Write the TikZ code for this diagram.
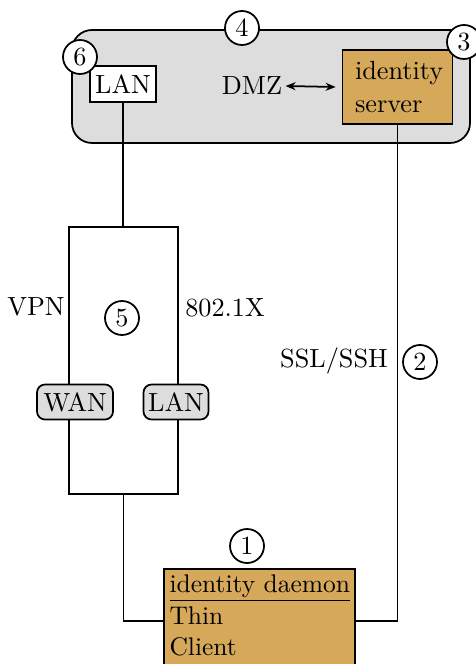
\documentclass[tikz,border=0pt]{standalone}
\usetikzlibrary{arrows.meta}
\definecolor{gold}{HTML}{D6A85A}
\definecolor{zone}{HTML}{DDDDDD}
\newcommand{\diagfont}{\fontsize{10.5}{13}\selectfont}
\newcommand{\clientfont}{\fontsize{10.2}{12.4}\selectfont}
\tikzset{
  every picture/.style={x=0.4pt,y=-0.4pt},
  every node/.style={font=\diagfont},
  base/.style={line width=0.7pt},
  num/.style={base,draw,circle,fill=white,minimum size=13.6pt,inner sep=0pt},
  whitebox/.style={base,draw,fill=white,inner sep=0pt},
  goldbox/.style={base,draw,fill=gold,inner sep=0pt},
  port/.style={base,draw,fill=zone,rounded corners=3.2pt,inner sep=0pt,minimum height=14pt},
  conn/.style={base},
  lbl/.style={inner sep=0pt}
}
\begin{document}
\begin{tikzpicture}
\useasboundingbox (0,0) rectangle (475,664);
% DMZ zone
\node[base,draw,fill=zone,rounded corners=8pt,minimum width=159.2pt,minimum height=45.2pt] (zonebox) at (271,86.5) {};
\node[whitebox,minimum width=26.4pt,minimum height=14.4pt] (lantop) at (123,84) {LAN};
\node[goldbox,text width=34pt,inner xsep=5pt,align=left,minimum height=29.6pt] (idserver) at (397.5,87) {identity\\server};
\node[lbl] (dmz) at (252,86) {DMZ};
\draw[conn,{Stealth[length=4pt,width=3.2pt]}-{Stealth[length=4pt,width=3.2pt]}] ([xshift=1.2pt]dmz.east) -- ([xshift=-2.4pt]idserver.west);
% router box
\node[base,draw,minimum width=43.6pt,minimum height=106.8pt] (router) at (123.5,360.5) {};
\node[port,minimum width=30.4pt] (wan) at (75,402) {WAN};
\node[port,minimum width=26pt] (lanport) at (176,402) {LAN};
\node[lbl] (vpn) at (36,307) {VPN};
\node[lbl] (dot1x) at (225,308) {802.1X};
% client
\node[goldbox,minimum width=76.4pt,minimum height=41.6pt] (client) at (259.5,621) {};
\node[lbl,anchor=north west,align=left,font=\clientfont] (clienttext) at (169,574) {\underline{identity daemon}\\[0.5pt]Thin\\Client};
% connectors
\draw[conn] (lantop.south) -- (lantop.south |- router.north);
\draw[conn] (router.south) |- (client.west);
\draw[conn] (idserver.south) |- (client.east);
\node[lbl] (ssl) at (334,361) {SSL/SSH};
% numbers
\node[num] (c1) at (247,546) {1};
\node[num] (c2) at (420,362) {2};
\node[num] (c3) at (464,42) {3};
\node[num] (c4) at (242,28) {4};
\node[num] (c5) at (122,318) {5};
\node[num] (c6) at (80,57) {6};
\end{tikzpicture}
\end{document}
